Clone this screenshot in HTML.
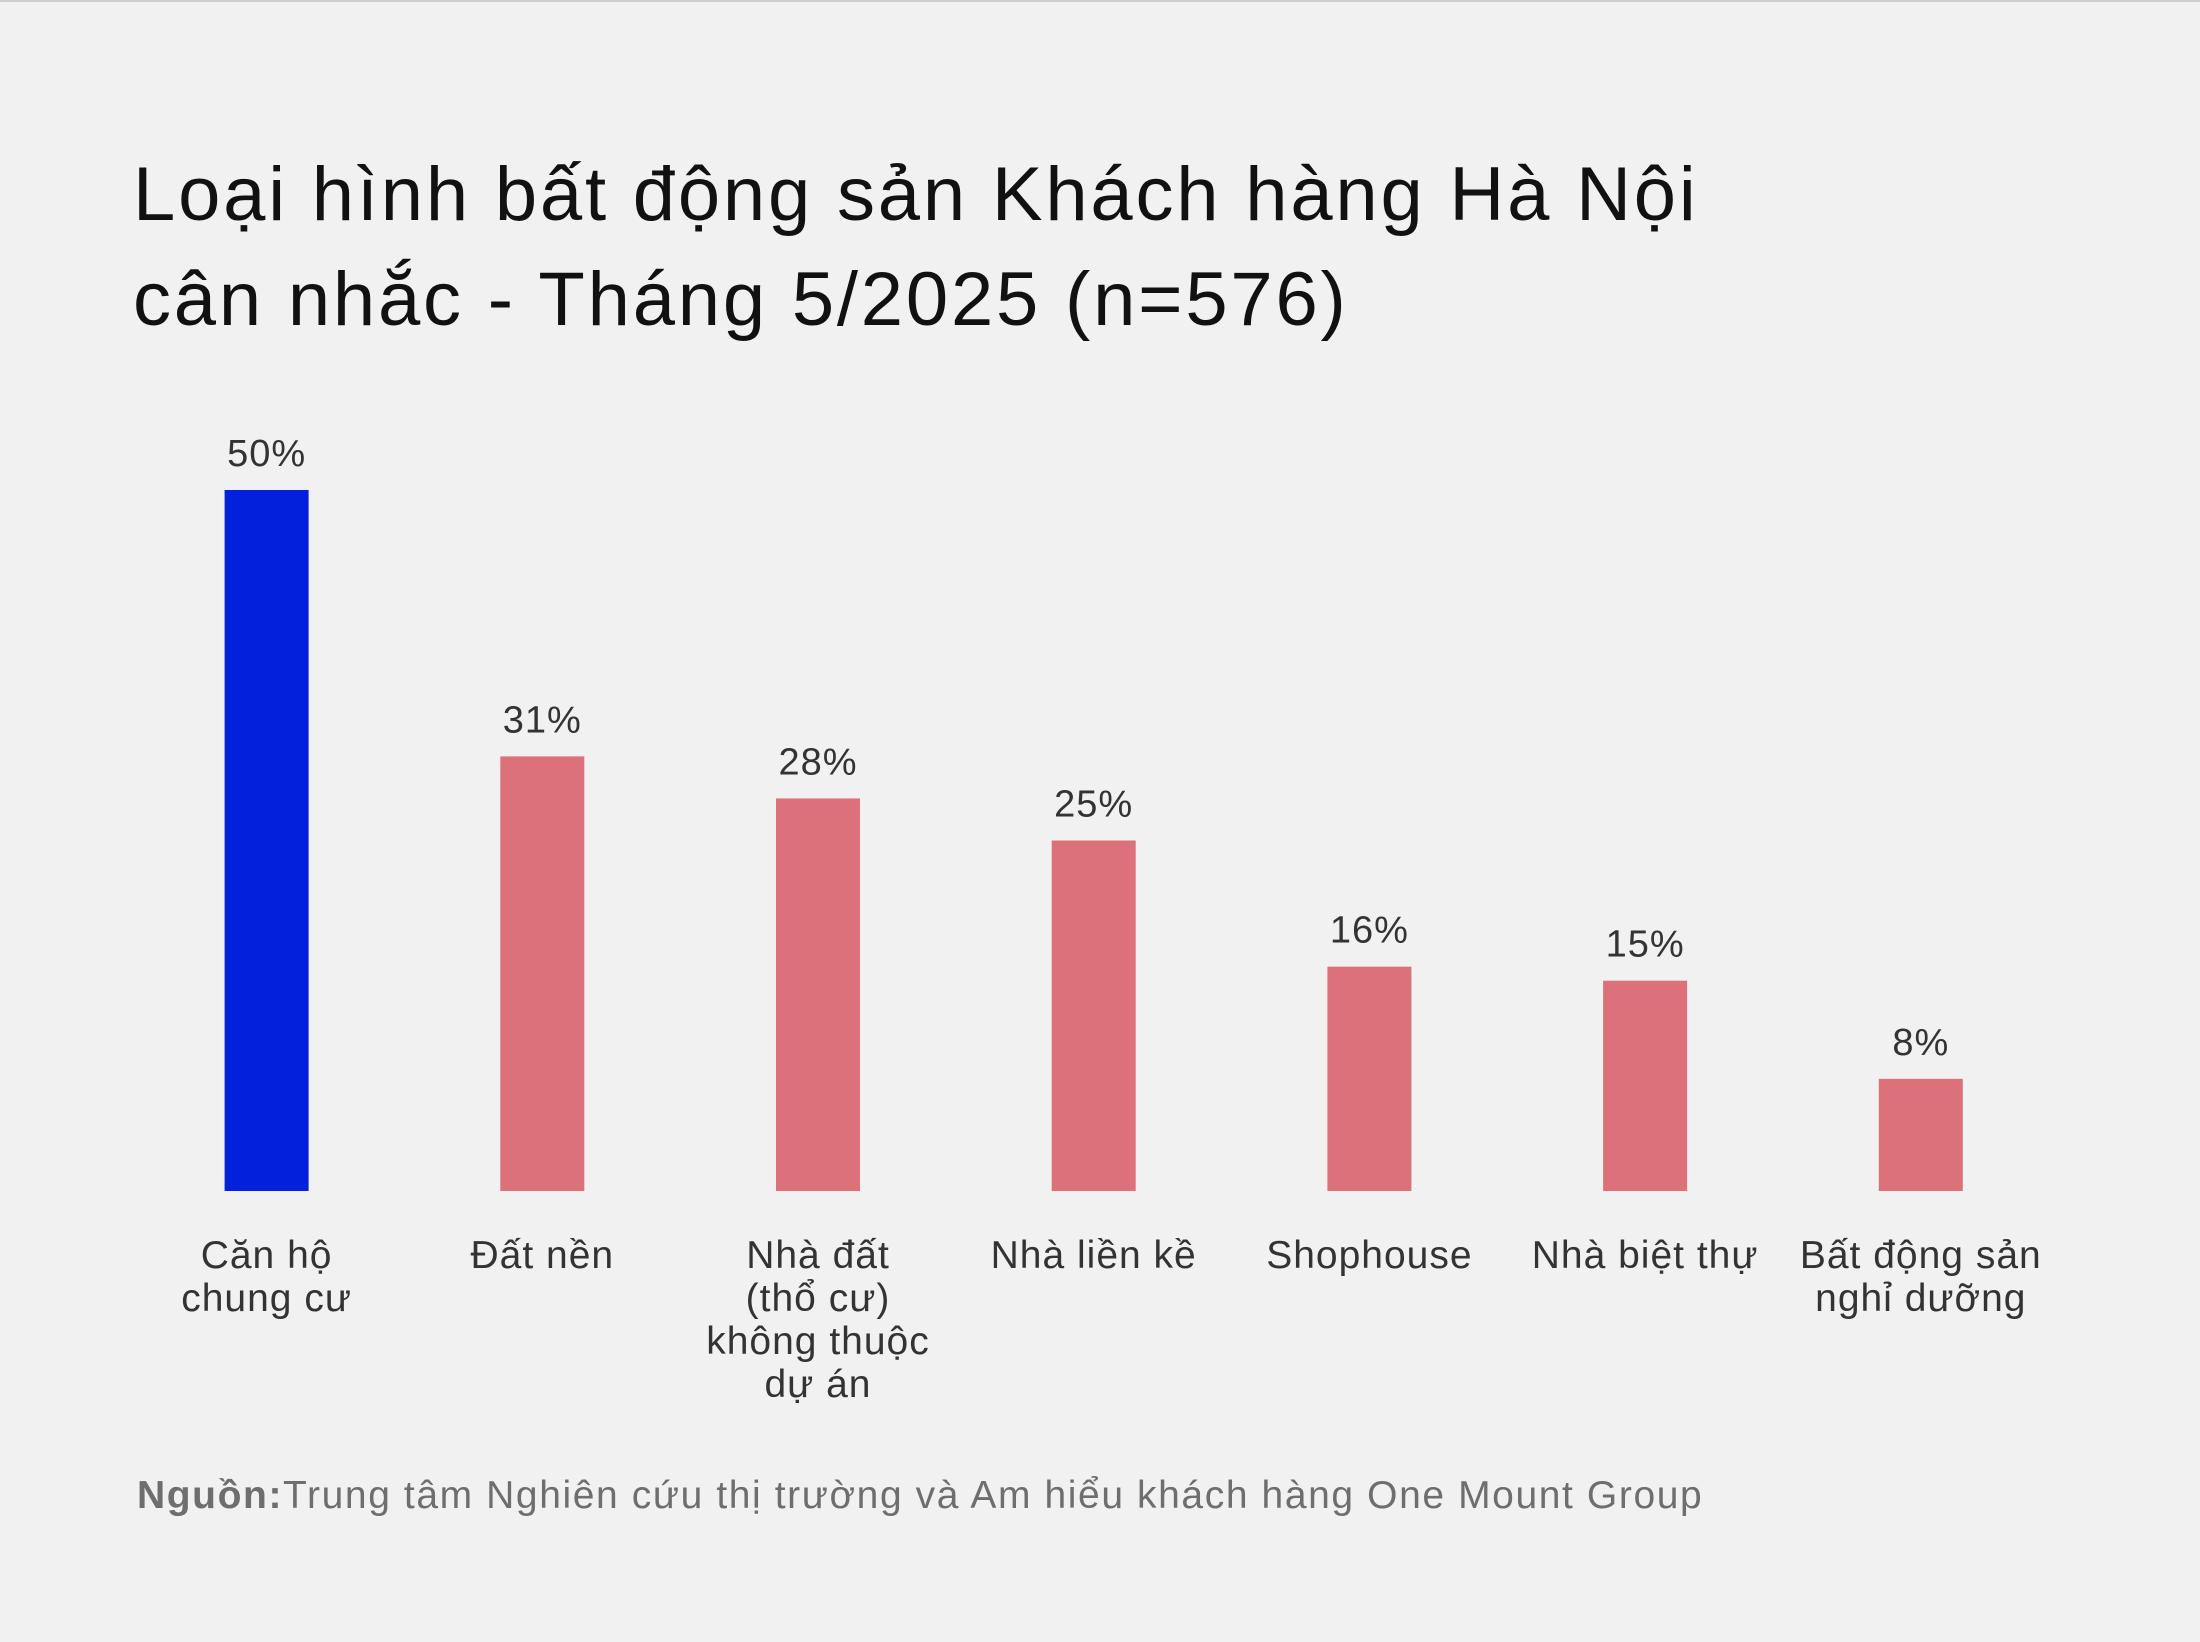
<!DOCTYPE html>
<html><head><meta charset="utf-8">
<style>
html,body{margin:0;padding:0;background:#f0f1f0;}
body{width:2200px;height:1642px;overflow:hidden;position:relative;font-family:"Liberation Sans","DejaVu Sans",sans-serif;}
#title{position:absolute;left:133px;top:142px;font-size:76px;line-height:105px;color:#111;font-weight:500;margin:0;letter-spacing:2.8px;}
#source{position:absolute;left:137px;top:1474px;font-size:39px;color:#6e6e6e;letter-spacing:1.6px;}
</style></head><body>
<div style="position:absolute;left:0;top:0;width:2200px;height:2px;background:#cfcfcf"></div>
<h1 id="title">Loại hình bất động sản Khách hàng Hà Nội<br>cân nhắc - Tháng 5/2025 (n=576)</h1>
<svg id="chart" width="2200" height="1642" style="position:absolute;left:0;top:0"></svg>
<div id="source"><b>Nguồn:</b>Trung tâm Nghiên cứu thị trường và Am hiểu khách hàng One Mount Group</div>
<script>
const categories=[["Căn hộ","chung cư"],["Đất nền"],["Nhà đất","(thổ cư)","không thuộc","dự án"],["Nhà liền kề"],["Shophouse"],["Nhà biệt thự"],["Bất động sản","nghỉ dưỡng"]];
const values=[50,31,28,25,16,15,8];
const labels=["50%","31%","28%","25%","16%","15%","8%"];
const colors=["#0320dc","#dd717a","#dd717a","#dd717a","#dd717a","#dd717a","#dd717a"];
const svg=document.getElementById('chart');
const NS="http://www.w3.org/2000/svg";
const x0=266.6, step=275.7, bw=84, baseY=1191, pxPer=14.02;
const xScale=i=>x0+i*step;
const yScale=v=>baseY-v*pxPer;
values.forEach((v,i)=>{
  const r=document.createElementNS(NS,'rect');
  
  
  r.setAttribute('x',xScale(i)-bw/2);r.setAttribute('y',yScale(v));
  r.setAttribute('width',bw);r.setAttribute('height',baseY-yScale(v));
  r.setAttribute('fill',colors[i]);svg.appendChild(r);
  const t=document.createElementNS(NS,'text');
  
  
  t.setAttribute('x',xScale(i));t.setAttribute('y',yScale(v)-24);
  t.setAttribute('text-anchor','middle');t.setAttribute('font-size','38');t.setAttribute('fill','#333');t.setAttribute('letter-spacing','1');
  t.textContent=labels[i];svg.appendChild(t);
  categories[i].forEach((line,j)=>{
    const c=document.createElementNS(NS,'text');
    
    
    c.setAttribute('x',xScale(i));c.setAttribute('y',1268+j*43);
    c.setAttribute('text-anchor','middle');c.setAttribute('font-size','39');c.setAttribute('fill','#333');c.setAttribute('letter-spacing','1');
    c.textContent=line;svg.appendChild(c);
  });
});
</script>
</body></html>
